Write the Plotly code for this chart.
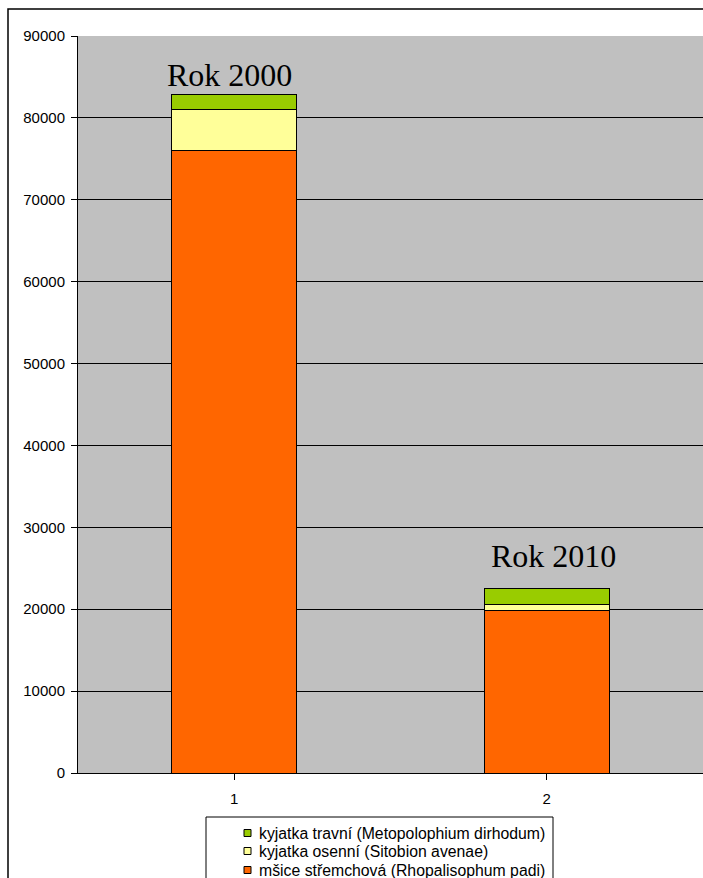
import plotly.graph_objects as go

# Aphid catches per year (stacked by species)
categories = ["1", "2"]
years = ["Rok 2000", "Rok 2010"]
rhopalosiphum = [76000, 19900]
sitobion = [5000, 700]
metopolophium = [1900, 1900]

series = [
    ("mšice střemchová (Rhopalisophum padi)", rhopalosiphum, "#FF6600"),
    ("kyjatka osenní (Sitobion avenae)", sitobion, "#FFFF99"),
    ("kyjatka travní (Metopolophium dirhodum)", metopolophium, "#99CC00"),
]

x_pos = [1, 2]

# plot-area geometry in pixels (for paper-coordinate helpers)
W, H = 703, 878
L, R, T, B = 78, 0, 36, 105
PW, PH = W - L - R, H - T - B


def px(x):
    return (x - L) / PW


def py(y):
    return (H - B - y) / PH


fig = go.Figure()
for name, vals, color in series:
    fig.add_trace(go.Bar(
        x=x_pos, y=vals, name=name, width=0.4,
        marker=dict(color=color, line=dict(color="black", width=1)),
        showlegend=False,
    ))

serif = "Liberation Serif, Times New Roman, serif"
fig.add_annotation(x=0.985, y=85200, text=years[0], showarrow=False,
                   xanchor="center", yanchor="middle",
                   font=dict(family=serif, size=32, color="black"))
fig.add_annotation(x=2.02, y=26500, text=years[1], showarrow=False,
                   xanchor="center", yanchor="middle",
                   font=dict(family=serif, size=32, color="black"))

# outer chart frame
fig.add_shape(type="rect", xref="paper", yref="paper",
              x0=px(8), x1=px(720), y0=py(900), y1=py(9),
              line=dict(color="black", width=1.5), fillcolor="rgba(0,0,0,0)", layer="below")

# legend box, entries listed top to bottom (reverse of stacking order)
fig.add_shape(type="rect", xref="paper", yref="paper",
              x0=px(206), x1=px(553), y0=py(900), y1=py(817),
              line=dict(color="black", width=1), fillcolor="white")
row_y = [833, 851, 870]
for (name, _, color), yy in zip(reversed(series), row_y):
    fig.add_shape(type="rect", xref="paper", yref="paper",
                  x0=px(244), x1=px(251), y0=py(yy + 3.5), y1=py(yy - 3.5),
                  line=dict(color="black", width=1), fillcolor=color)
    fig.add_annotation(xref="paper", yref="paper", x=px(257), y=py(yy),
                       text=name, showarrow=False, xanchor="left", yanchor="middle",
                       font=dict(size=15.8, color="black"))

fig.update_layout(
    width=W, height=H,
    margin=dict(l=L, r=R, t=T, b=B, autoexpand=False),
    paper_bgcolor="white",
    plot_bgcolor="#C0C0C0",
    barmode="stack",
    font=dict(family="Liberation Sans, Arial, sans-serif", size=15, color="black"),
    showlegend=False,
    xaxis=dict(
        range=[0.5, 2.5], tickvals=x_pos, ticktext=categories,
        showline=True, linecolor="black", linewidth=1,
        ticks="outside", ticklen=6, tickcolor="black",
        tickson="boundaries", showgrid=False,
        ticklabelstandoff=6, tickfont=dict(size=15),
    ),
    yaxis=dict(
        range=[0, 90000], dtick=10000, tickformat="d",
        showline=True, linecolor="black", linewidth=1,
        ticks="outside", ticklen=6, tickcolor="black",
        showgrid=True, gridcolor="black", gridwidth=1,
        zeroline=False, tickfont=dict(size=15),
        ticklabelstandoff=3,
    ),
)

fig.write_html("out.html")
